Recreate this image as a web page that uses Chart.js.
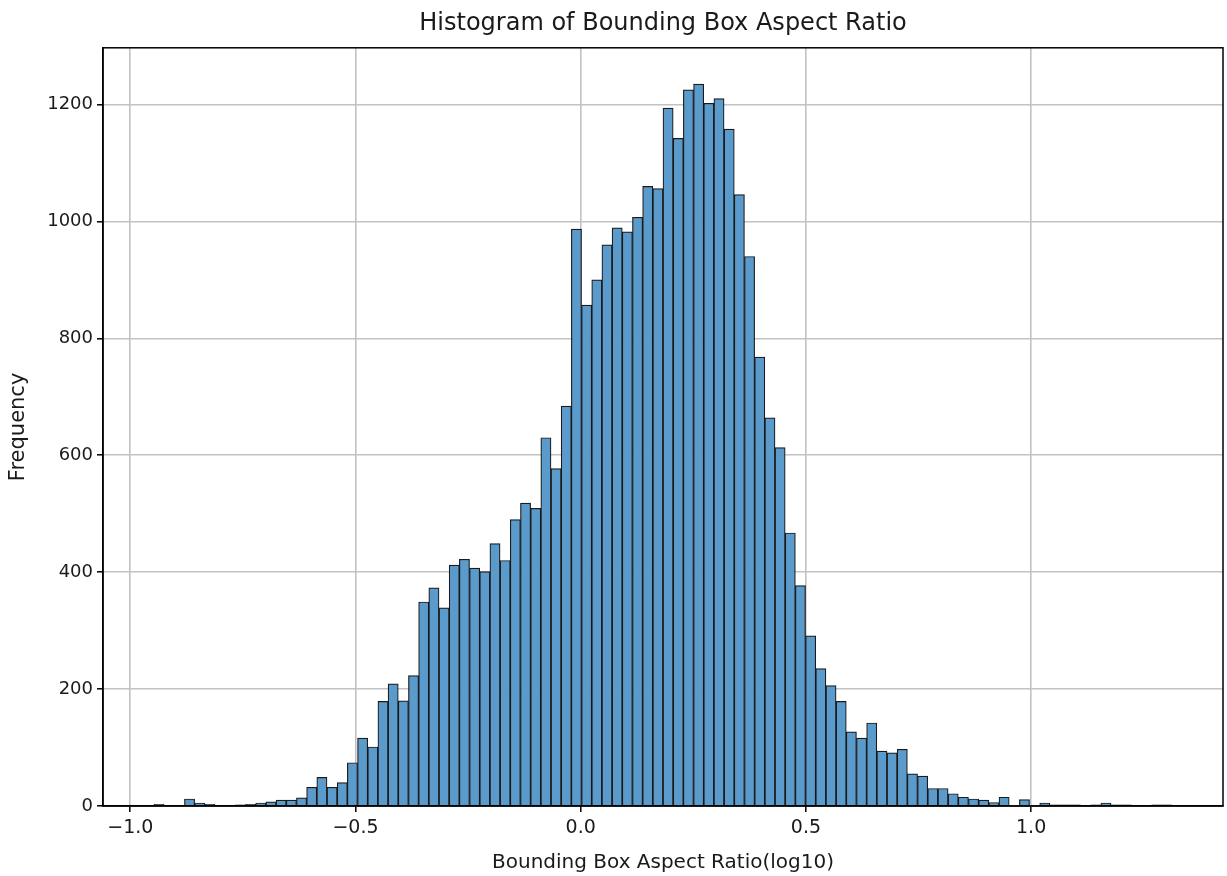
<!DOCTYPE html>
<html>
<head>
<meta charset="utf-8">
<title>Histogram of Bounding Box Aspect Ratio</title>
<script src="https://cdn.jsdelivr.net/npm/chart.js@4.4.1/dist/chart.umd.min.js"></script>
<style>
    html, body { margin: 0; padding: 0; background: #ffffff; }
    #grafico { display: block; }
</style>
</head>
<body>
<canvas id="grafico" width="1227" height="876"></canvas>
<script>
// histogram counts, 100 equal bins
const contagens = [
    3, 0, 0, 12, 5, 3, 0, 0, 2, 3,
    5, 7, 10, 10, 14, 32, 49, 32, 40, 74,
    116, 101, 179, 209, 180, 223, 349, 373, 339, 412,
    422, 407, 401, 449, 420, 490, 518, 509, 630, 577,
    684, 987, 857, 900, 960, 989, 982, 1007, 1060, 1056,
    1194, 1142, 1225, 1235, 1202, 1210, 1158, 1046, 940, 768,
    664, 613, 467, 377, 291, 235, 206, 179, 127, 116,
    142, 94, 91, 97, 55, 51, 30, 30, 21, 15,
    12, 10, 6, 15, 1, 11, 1, 5, 2, 2,
    2, 0, 2, 5, 2, 2, 0, 0, 2, 2
];
const inicioBins = -0.9476;   // left edge of first bin (log10 ratio)
const larguraBin = 0.022606;  // bin width

const ticksX = [-1.0, -0.5, 0.0, 0.5, 1.0];
const ticksY = [0, 200, 400, 600, 800, 1000, 1200];
const limitesX = [-1.0606, 1.4260];
const limitesY = [0, 1297];

const pontos = contagens.map((c, i) => ({
    x: inicioBins + (i + 0.5) * larguraBin,
    y: c
}));

const fonte = 'DejaVu Sans';
const corTexto = '#1a1a1a';

// matplotlib style frame: top and right spines
const moldura = {
    id: 'moldura',
    afterDraw(chart) {
        const { ctx, chartArea: a } = chart;
        ctx.save();
        ctx.strokeStyle = '#000';
        ctx.lineWidth = 1.5;
        ctx.strokeRect(a.left, a.top, a.right - a.left, a.bottom - a.top);
        ctx.restore();
    }
};

const ctx = document.getElementById('grafico').getContext('2d');
new Chart(ctx, {
    type: 'bar',
    data: {
        datasets: [{
            data: pontos,
            backgroundColor: '#5b9bcc',
            borderColor: 'rgba(15,15,15,0.95)',
            borderWidth: 1.2,
            barPercentage: 1,
            categoryPercentage: 1
        }]
    },
    options: {
        responsive: false,
        animation: false,
        layout: { padding: { left: 0, right: 4, top: 0, bottom: 0 } },
        plugins: {
            legend: { display: false },
            tooltip: { enabled: false },
            title: {
                display: true,
                fullSize: false, // centred over the plot area, not the canvas
                text: 'Histogram of Bounding Box Aspect Ratio',
                color: corTexto,
                font: { family: fonte, size: 24, weight: 'normal' },
                padding: { top: 9, bottom: 10 }
            }
        },
        scales: {
            x: {
                type: 'linear',
                min: limitesX[0],
                max: limitesX[1],
                offset: false,
                z: 1,
                afterBuildTicks: s => { s.ticks = ticksX.map(v => ({ value: v })); },
                afterFit: s => { s.height = 70; },
                ticks: {
                    color: corTexto,
                    font: { family: fonte, size: 19 },
                    padding: 5,
                    maxRotation: 0,
                    autoSkip: false,
                    callback: v => (v < 0 ? '\u2212' : '') + Math.abs(v).toFixed(1)
                },
                grid: {
                    offset: false,
                    color: '#c2c2c2',
                    lineWidth: 1.6,
                    tickColor: '#000',
                    tickLength: 6,
                    tickWidth: 1.5
                },
                border: { color: '#000', width: 1.5 },
                title: {
                    display: true,
                    text: 'Bounding Box Aspect Ratio(log10)',
                    color: corTexto,
                    font: { family: fonte, size: 20 },
                    padding: { top: 0, bottom: 1 }
                }
            },
            y: {
                min: limitesY[0],
                max: limitesY[1],
                z: 1,
                afterBuildTicks: s => { s.ticks = ticksY.map(v => ({ value: v })); },
                afterFit: s => { s.width = 103; },
                ticks: {
                    color: corTexto,
                    font: { family: fonte, size: 18 },
                    padding: 4,
                    callback: v => String(v)
                },
                grid: {
                    color: '#c2c2c2',
                    lineWidth: 1.6,
                    tickColor: '#000',
                    tickLength: 6,
                    tickWidth: 1.5
                },
                border: { color: '#000', width: 1.5 },
                title: {
                    display: true,
                    text: 'Frequency',
                    color: corTexto,
                    font: { family: fonte, size: 21 },
                    padding: { top: 6, bottom: 6 }
                }
            }
        }
    },
    plugins: [moldura]
});
</script>
</body>
</html>
